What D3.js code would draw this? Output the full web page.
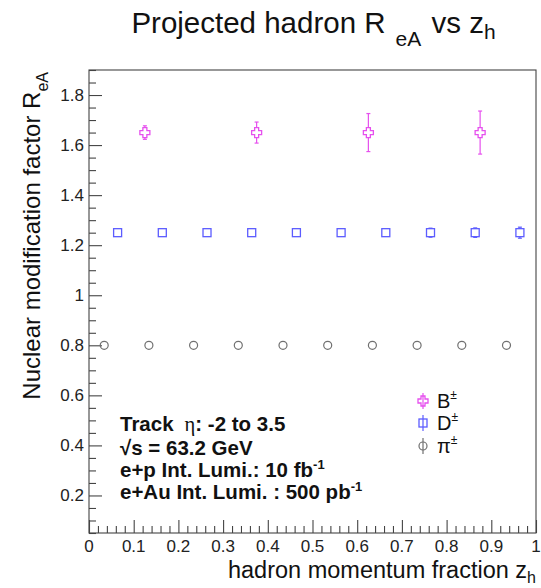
<!DOCTYPE html>
<html>
<head>
<meta charset="utf-8">
<script src="https://cdn.jsdelivr.net/npm/d3@7"></script>
<style>
  html, body { margin: 0; padding: 0; background: #fff; }
  svg { display: block; font-family: "Liberation Sans", Arial, Helvetica, sans-serif; }
</style>
</head>
<body>
<svg id="chart" width="541" height="588"></svg>
<script>
// ---- data ----
const bZh   = [0.125, 0.375, 0.625, 0.875];
const bReA  = [1.65, 1.65, 1.65, 1.65];
const bErr  = [0.027, 0.042, 0.076, 0.086];

const dZh   = [0.064, 0.164, 0.264, 0.364, 0.464, 0.564, 0.664, 0.764, 0.864, 0.964];
const dReA  = [1.25, 1.25, 1.25, 1.25, 1.25, 1.25, 1.25, 1.25, 1.25, 1.25];
const dErr  = [0.004, 0.005, 0.006, 0.007, 0.008, 0.010, 0.012, 0.018, 0.019, 0.022];

const piZh  = [0.034, 0.134, 0.234, 0.334, 0.434, 0.534, 0.634, 0.734, 0.834, 0.934];
const piReA = [0.8, 0.8, 0.8, 0.8, 0.8, 0.8, 0.8, 0.8, 0.8, 0.8];
const piErr = [0.002, 0.002, 0.002, 0.003, 0.003, 0.003, 0.004, 0.004, 0.005, 0.006];

const xTickVals   = [0, 0.1, 0.2, 0.3, 0.4, 0.5, 0.6, 0.7, 0.8, 0.9, 1];
const xTickLabels = ["0", "0.1", "0.2", "0.3", "0.4", "0.5", "0.6", "0.7", "0.8", "0.9", "1"];
const yTickVals   = [0.2, 0.4, 0.6, 0.8, 1.0, 1.2, 1.4, 1.6, 1.8];
const yTickLabels = ["0.2", "0.4", "0.6", "0.8", "1", "1.2", "1.4", "1.6", "1.8"];

// ---- layout ----
const frame = { left: 89, right: 536, top: 70, bottom: 533 };
const colB = "#e650ee", colD = "#5c5cff", colPi = "#707070";

const svg = d3.select("#chart");
const x = d3.scaleLinear().domain([0, 1]).range([frame.left, frame.right]);
const y = d3.scaleLinear().domain([0.05, 1.9]).range([frame.bottom, frame.top]);

// frame
svg.append("rect")
  .attr("x", frame.left).attr("y", frame.top)
  .attr("width", frame.right - frame.left).attr("height", frame.bottom - frame.top)
  .attr("fill", "none").attr("stroke", "#444").attr("stroke-width", 1.1);

// ---- axes: ticks pointing into the frame ----
const xMinor = d3.range(0, 50).map(i => i * 0.02).filter(v => Math.abs(v * 10 - Math.round(v * 10)) > 1e-6);
const xAxisMajor = d3.axisTop(x).tickValues(xTickVals).tickSize(13).tickFormat("");
const xAxisMinor = d3.axisTop(x).tickValues(xMinor).tickSize(7).tickFormat("");
const gx = svg.append("g").attr("transform", `translate(0,${frame.bottom})`);
gx.append("g").call(xAxisMajor);
gx.append("g").call(xAxisMinor);
gx.selectAll(".domain").remove();
gx.selectAll("line").attr("stroke", "#444").attr("stroke-width", 1.1);

const yMinor = d3.range(1, 39).map(i => i * 0.05).filter(v => Math.abs(v * 5 - Math.round(v * 5)) > 1e-6);
const yAxisMajor = d3.axisRight(y).tickValues(yTickVals).tickSize(13).tickFormat("");
const yAxisMinor = d3.axisRight(y).tickValues(yMinor).tickSize(7).tickFormat("");
const gy = svg.append("g").attr("transform", `translate(${frame.left},0)`);
gy.append("g").call(yAxisMajor);
gy.append("g").call(yAxisMinor);
gy.selectAll(".domain").remove();
gy.selectAll("line").attr("stroke", "#444").attr("stroke-width", 1.1);

// tick labels
svg.append("g").selectAll("text").data(xTickVals).join("text")
  .attr("x", d => x(d)).attr("y", 552)
  .attr("text-anchor", "middle").attr("font-size", 17).attr("fill", "#222")
  .text((d, i) => xTickLabels[i]);
svg.append("g").selectAll("text").data(yTickVals).join("text")
  .attr("x", 84).attr("y", d => y(d) + 6)
  .attr("text-anchor", "end").attr("font-size", 17).attr("fill", "#222")
  .text((d, i) => yTickLabels[i]);

// ---- titles ----
const title = svg.append("text").attr("x", (frame.left + frame.right) / 2 + 1).attr("y", 33)
  .attr("text-anchor", "middle").attr("font-size", 29.5).attr("fill", "#111");
title.append("tspan").text("Projected hadron R");
title.append("tspan").attr("dx", 10).attr("dy", 13).attr("font-size", 21).text("eA");
title.append("tspan").attr("dx", 2).attr("dy", -13).text(" vs z");
title.append("tspan").attr("dy", 6).attr("font-size", 21).text("h");

const xt = svg.append("text").attr("x", 536).attr("y", 578)
  .attr("text-anchor", "end").attr("font-size", 23.5).attr("fill", "#111");
xt.append("tspan").text("hadron momentum fraction z");
xt.append("tspan").attr("dy", 5).attr("font-size", 16).text("h");

const yt = svg.append("text")
  .attr("transform", `translate(40,${frame.top + 2}) rotate(-90)`)
  .attr("text-anchor", "end").attr("font-size", 24).attr("fill", "#111");
yt.append("tspan").text("Nuclear modification factor R");
yt.append("tspan").attr("dy", 8).attr("font-size", 16).text("eA");

// ---- markers ----
function crossPath(s, w) {
  // outlined plus sign, half-size s, arm half-width w
  return `M${-w},${-s}H${w}V${-w}H${s}V${w}H${w}V${s}H${-w}V${w}H${-s}V${-w}H${-w}Z`;
}
function drawMarker(g, cx, cy, color, shape) {
  if (shape === "cross") {
    g.append("path").attr("d", crossPath(5, 2)).attr("transform", `translate(${cx},${cy})`)
      .attr("fill", "none").attr("stroke", color).attr("stroke-width", 1.3);
  } else if (shape === "square") {
    g.append("rect").attr("x", cx - 4).attr("y", cy - 4).attr("width", 8).attr("height", 8)
      .attr("fill", "none").attr("stroke", color).attr("stroke-width", 1.3);
  } else {
    g.append("circle").attr("cx", cx).attr("cy", cy).attr("r", 4)
      .attr("fill", "none").attr("stroke", color).attr("stroke-width", 1.2);
  }
}
function drawSeries(zh, val, err, color, shape, half) {
  const g = svg.append("g");
  zh.forEach((zv, i) => {
    const cx = x(zv), cy = y(val[i]);
    const top = y(val[i] + err[i]), bot = y(val[i] - err[i]);
    if (cy - top > half) {
      [[top, cy - half], [cy + half, bot]].forEach(([a, b]) =>
        g.append("line").attr("x1", cx).attr("x2", cx).attr("y1", a).attr("y2", b)
          .attr("stroke", color).attr("stroke-width", 1.2));
      [top, bot].forEach(v =>
        g.append("line").attr("x1", cx - 2).attr("x2", cx + 2).attr("y1", v).attr("y2", v)
          .attr("stroke", color).attr("stroke-width", 1.2));
    }
    drawMarker(g, cx, cy, color, shape);
  });
}
drawSeries(piZh, piReA, piErr, colPi, "circle", 4);
drawSeries(dZh, dReA, dErr, colD, "square", 4);
drawSeries(bZh, bReA, bErr, colB, "cross", 5);

// ---- legend ----
const legend = [
  { name: "B", color: colB, shape: "cross", cy: 401 },
  { name: "D", color: colD, shape: "square", cy: 423 },
  { name: "π", color: colPi, shape: "circle", cy: 446 }
];
legend.forEach(e => {
  const g = svg.append("g");
  g.append("line").attr("x1", 423).attr("x2", 423).attr("y1", e.cy - 8).attr("y2", e.cy + 8)
    .attr("stroke", e.color).attr("stroke-width", 1.2);
  drawMarker(g, 423, e.cy, e.color, e.shape);
  const t = g.append("text").attr("x", 437).attr("y", e.cy + 7).attr("font-size", 20).attr("fill", "#111");
  t.append("tspan").text(e.name);
  t.append("tspan").attr("dy", -9).attr("font-size", 12).text("±");
});

// ---- info text ----
const info = svg.append("g").attr("font-weight", "bold").attr("font-size", 20.5).attr("fill", "#111");
const l1 = info.append("text").attr("x", 120).attr("y", 431);
l1.append("tspan").text("Track");
l1.append("tspan").attr("dx", 11).attr("font-family", "'Liberation Serif', 'DejaVu Serif', serif")
  .attr("font-weight", "normal").text("η");
l1.append("tspan").text(": -2 to 3.5");
info.append("text").attr("x", 120).attr("y", 455).text("√s = 63.2 GeV");
const l3 = info.append("text").attr("x", 120).attr("y", 477);
l3.append("tspan").text("e+p Int. Lumi.: 10 fb");
l3.append("tspan").attr("dy", -8).attr("font-size", 13).text("-1");
const l4 = info.append("text").attr("x", 120).attr("y", 499);
l4.append("tspan").text("e+Au Int. Lumi. : 500 pb");
l4.append("tspan").attr("dy", -8).attr("font-size", 13).text("-1");
</script>
</body>
</html>
